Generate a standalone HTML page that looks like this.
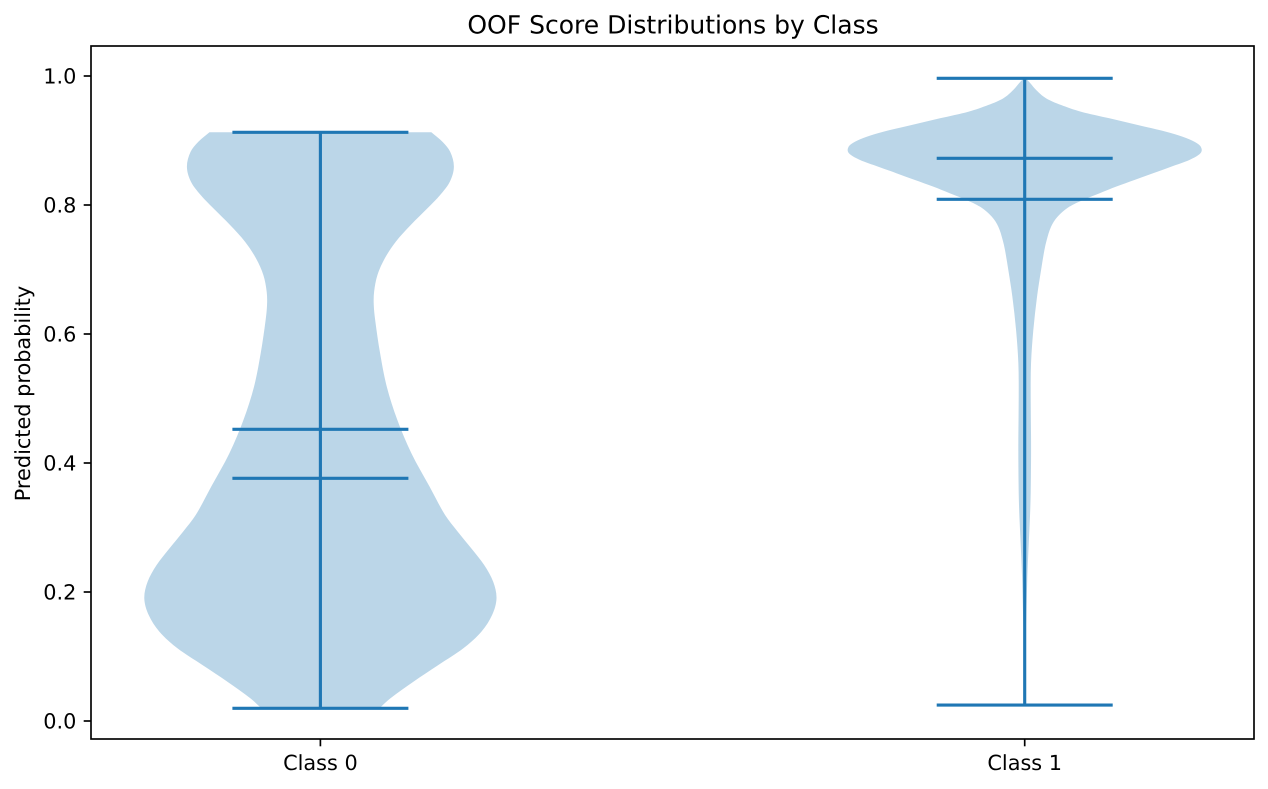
<!DOCTYPE html>
<html lang="en">
<head>
<meta charset="utf-8">
<title>OOF Score Distributions by Class</title>
<style>
  html, body { margin: 0; padding: 0; background: #fff; }
  body { width: 1268px; height: 789px; overflow: hidden; }
  svg { display: block; }
  text { font-family: "DejaVu Sans", "Liberation Sans", sans-serif; fill: #000; text-rendering: geometricPrecision; }
</style>
</head>
<body>
<svg id="chart" xmlns="http://www.w3.org/2000/svg" width="1268" height="789" viewBox="0 0 1268 789">
  <rect x="0" y="0" width="1268" height="789" fill="#ffffff"/>
  <g id="violins"></g>
  <g id="x-axis"></g>
  <g id="y-axis"></g>
  <rect x="91" y="46" width="1163" height="693" fill="none" stroke="#000" stroke-width="1.67"/>
  <text x="673" y="33.5" font-size="25.04" text-anchor="middle">OOF Score Distributions by Class</text>
  <text x="30" y="393.5" font-size="20.83" text-anchor="middle" transform="rotate(-90 30 393.5)">Predicted probability</text>
</svg>
<script>
const categories = ['Class 0', 'Class 1'];
const yTicks = [0.0, 0.2, 0.4, 0.6, 0.8, 1.0];
const yTickLabels = ['0.0', '0.2', '0.4', '0.6', '0.8', '1.0'];

const class0Scores = [0.0197, 0.0352, 0.0609, 0.0868, 0.1127, 0.1384, 0.1643, 0.1902, 0.216, 0.2419, 0.2677, 0.2935, 0.3194, 0.3633, 0.415, 0.4667, 0.5183, 0.5701, 0.6217, 0.645, 0.6656, 0.6915, 0.7174, 0.7431, 0.769, 0.7949, 0.8155, 0.8361, 0.8594, 0.8826, 0.8981, 0.9127];
const class0Density = [0.335, 0.398, 0.528, 0.67, 0.812, 0.914, 0.975, 1.0, 0.981, 0.93, 0.857, 0.78, 0.708, 0.62, 0.517, 0.437, 0.377, 0.339, 0.311, 0.303, 0.305, 0.324, 0.366, 0.428, 0.513, 0.608, 0.68, 0.735, 0.758, 0.737, 0.693, 0.63];

const class1Scores = [0.0248, 0.0687, 0.12, 0.172, 0.2237, 0.2755, 0.3167, 0.353, 0.4047, 0.4408, 0.5028, 0.5546, 0.6062, 0.6578, 0.6992, 0.7302, 0.7457, 0.7664, 0.7819, 0.7974, 0.8088, 0.8181, 0.8284, 0.8388, 0.8491, 0.8594, 0.8698, 0.8802, 0.8904, 0.8981, 0.9059, 0.9136, 0.924, 0.9344, 0.9446, 0.955, 0.9654, 0.9783, 0.9887, 0.9964];
const class1Density = [0.0006, 0.001, 0.004, 0.01, 0.015, 0.023, 0.03, 0.034, 0.036, 0.036, 0.034, 0.036, 0.049, 0.07, 0.093, 0.112, 0.125, 0.15, 0.187, 0.254, 0.339, 0.424, 0.519, 0.623, 0.727, 0.831, 0.935, 0.998, 1.0, 0.964, 0.897, 0.803, 0.642, 0.481, 0.32, 0.207, 0.122, 0.065, 0.032, 0.007];

const minValues = [0.0197, 0.0248];
const maxValues = [0.9127, 0.9964];
const meanValues = [0.4522, 0.8088];
const medianValues = [0.3763, 0.8724];

const SVG_NS = 'http://www.w3.org/2000/svg';

function xPos(position) {
  return 320.4 + position * 704.3;
}
function yPos(value) {
  return 721 - value * 645;
}
function halfWidth(density) {
  return 176.1 * density;
}
function make(tag, parent, attrs) {
  const el = document.createElementNS(SVG_NS, tag);
  Object.keys(attrs).forEach(function (k) { el.setAttribute(k, attrs[k]); });
  parent.appendChild(el);
  return el;
}
function slopes(pts) {
  return pts.map(function (p, i) {
    const a = pts[Math.max(0, i - 1)];
    const b = pts[Math.min(pts.length - 1, i + 1)];
    return (b[0] - a[0]) / (b[1] - a[1]);
  });
}
function smoothSegments(pts) {
  const m = slopes(pts);
  let d = '';
  for (let i = 0; i < pts.length - 1; i++) {
    const p1 = pts[i];
    const p2 = pts[i + 1];
    const h = p2[1] - p1[1];
    const c1x = p1[0] + m[i] * h / 3;
    const c1y = p1[1] + h / 3;
    const c2x = p2[0] - m[i + 1] * h / 3;
    const c2y = p2[1] - h / 3;
    d += ' C' + c1x.toFixed(2) + ' ' + c1y.toFixed(2) + ' ' + c2x.toFixed(2) + ' ' + c2y.toFixed(2) + ' ' + p2[0].toFixed(2) + ' ' + p2[1].toFixed(2);
  }
  return d;
}
function bodyPath(position, scores, density) {
  const cx = xPos(position);
  const left = scores.map(function (s, i) { return [cx - halfWidth(density[i]), yPos(s)]; });
  const right = scores.map(function (s, i) { return [cx + halfWidth(density[i]), yPos(s)]; }).reverse();
  return 'M' + left[0][0].toFixed(2) + ' ' + left[0][1].toFixed(2) + smoothSegments(left) +
    ' L' + right[0][0].toFixed(2) + ' ' + right[0][1].toFixed(2) + smoothSegments(right) + ' Z';
}

const violinLayer = document.getElementById('violins');
const xAxisLayer = document.getElementById('x-axis');
const yAxisLayer = document.getElementById('y-axis');

const allScores = [class0Scores, class1Scores];
const allDensity = [class0Density, class1Density];
const LINE_COLOR = '#1f77b4';
const CAP_HALF = 88;
const LINE_WIDTH = 3.125;

categories.forEach(function (name, i) {
  const cx = xPos(i);
  const slug = 'class-' + i;

  const body = make('path', violinLayer, { d: bodyPath(i, allScores[i], allDensity[i]), fill: '#1f77b4', 'fill-opacity': 0.3, stroke: 'none' });
  
  

  const stem = make('line', violinLayer, { x1: cx, x2: cx, y1: yPos(minValues[i]), y2: yPos(maxValues[i]), stroke: LINE_COLOR, 'stroke-width': LINE_WIDTH });
  
  

  const caps = [
    ['min', minValues[i]],
    ['max', maxValues[i]],
    ['mean', meanValues[i]],
    ['median', medianValues[i]]
  ];
  caps.forEach(function (cap) {
    const bar = make('line', violinLayer, { x1: cx - CAP_HALF, x2: cx + CAP_HALF, y1: yPos(cap[1]), y2: yPos(cap[1]), stroke: LINE_COLOR, 'stroke-width': LINE_WIDTH });
    
    
  });

  const tick = make('line', xAxisLayer, { x1: cx, x2: cx, y1: 739, y2: 746.3, stroke: '#000', 'stroke-width': 1.67 });
  
  

  const label = make('text', xAxisLayer, { x: cx, y: 770, 'font-size': 20.83, 'text-anchor': 'middle' });
  label.textContent = name;
  
  
});

yTicks.forEach(function (value, i) {
  const y = yPos(value);
  const tick = make('line', yAxisLayer, { x1: 83.7, x2: 91, y1: y, y2: y, stroke: '#000', 'stroke-width': 1.67 });
  
  

  const label = make('text', yAxisLayer, { x: 76.4, y: y + 7.6, 'font-size': 20.83, 'text-anchor': 'end' });
  label.textContent = yTickLabels[i];
  
  
});
</script>
</body>
</html>
